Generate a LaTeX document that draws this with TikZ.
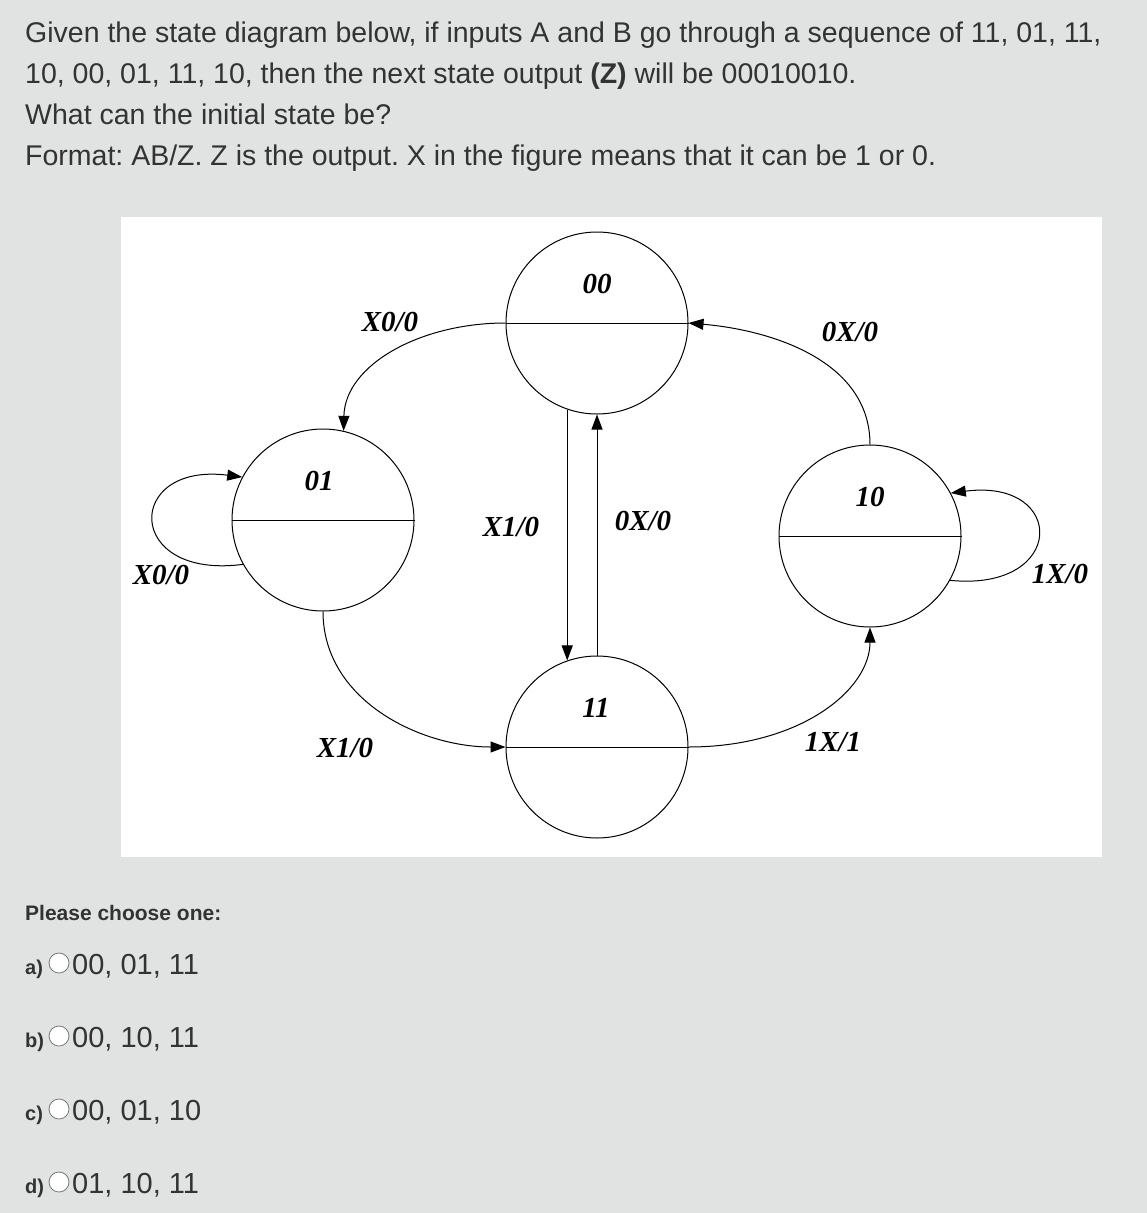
\documentclass[tikz,border=0pt]{standalone}
\usepackage{fontspec}
\setmainfont{Liberation Sans}
\newfontfamily\tnr{Liberation Serif}
\usetikzlibrary{arrows.meta}
\definecolor{pagegray}{RGB}{225,227,227}
\definecolor{textgray}{RGB}{51,51,51}
\definecolor{radiogray}{RGB}{120,120,120}
\frenchspacing

\begin{document}
\begin{tikzpicture}[
  x=1pt, y=-1pt,
  statecirc/.style={draw, circle, minimum size=182pt, inner sep=0pt, line width=1pt},
  lbl/.style={font=\tnr\bfseries\itshape\fontsize{29}{34}\selectfont},
  trans/.style={line width=1pt, -{Triangle[length=15pt,width=11pt]}},
  qtext/.style={anchor=base west, inner sep=0pt, text=textgray, font=\fontsize{28.5}{34}\selectfont},
  opttag/.style={anchor=base west, inner sep=0pt, text=textgray, font=\bfseries\fontsize{20}{24}\selectfont},
  opttext/.style={anchor=base west, inner sep=0pt, text=textgray, font=\fontsize{29}{34}\selectfont},
  radio/.style={draw=radiogray, fill=white, circle, minimum size=20pt, inner sep=0pt, line width=0.8pt}
]
\fill[pagegray] (0,0) rectangle (1147,1213);
\fill[white] (121,217) rectangle (1102,857);

\node[qtext] (q1) at (25,42) {Given the state diagram below, if inputs A and B go through a sequence of 11, 01, 11,};
\node[qtext] (q2) at (25,83) {10, 00, 01, 11, 10, then the next state output \textbf{(Z)} will be 00010010.};
\node[qtext] (q3) at (25,124) {What can the initial state be?};
\node[qtext] (q4) at (25,165) {Format: AB/Z. Z is the output. X in the figure means that it can be 1 or 0.};

\node[statecirc] (s00) at (597,323) {};
\node[statecirc] (s01) at (323,520) {};
\node[statecirc] (s10) at (870,536) {};
\node[statecirc] (s11) at (597,747) {};
\foreach \s in {s00,s01,s10,s11}
  \draw[line width=1pt] (\s.west) -- (\s.east);

\node[lbl] (n00) at (597,284) {00};
\node[lbl] (n01) at (319,481) {01};
\node[lbl] (n10) at (870,497) {10};
\node[lbl] (n11) at (596,708) {11};

\draw[trans] (s00.west) .. controls (420,323) and (345,365) .. (s01.77);
\draw[trans] (s10.north) .. controls (870,360) and (770,330) .. (s00.east);
\draw[trans] (s00.251) -- (s11.109);
\draw[trans] (s11.north) -- (s00.south);
\draw[trans] (s01.south) .. controls (323,700) and (420,747) .. (s11.west);
\draw[trans] (s11.east) .. controls (800,747) and (870,690) .. (s10.south);
\draw[trans] (s01.209) .. controls (124,580) and (124,462) .. (s01.152);
\draw[trans] (s10.331) .. controls (1067,592) and (1067,478) .. (s10.28);

\node[lbl] (t0001) at (390,322) {X0/0};
\node[lbl] (t1000) at (850,332) {0X/0};
\node[lbl] (t0011) at (511,527) {X1/0};
\node[lbl] (t1100) at (643,521) {0X/0};
\node[lbl] (t0101) at (161,575) {X0/0};
\node[lbl] (t1010) at (1060,574) {1X/0};
\node[lbl] (t0111) at (345,748) {X1/0};
\node[lbl] (t1110) at (833,742) {1X/1};

\node[anchor=base west, inner sep=0pt, text=textgray, font=\bfseries\fontsize{21}{25}\selectfont] (pick) at (25,920) {Please choose one:};
\foreach \tag/\ans/\yy in {a/{00, 01, 11}/974, b/{00, 10, 11}/1047, c/{00, 01, 10}/1120, d/{01, 10, 11}/1193} {
  \node[opttag] (tag\tag) at (25,\yy) {\tag)};
  \node[radio] (rad\tag) at (59,\yy-11) {};
  \node[opttext] (ans\tag) at (72,\yy) {\ans};
}
\end{tikzpicture}
\end{document}
